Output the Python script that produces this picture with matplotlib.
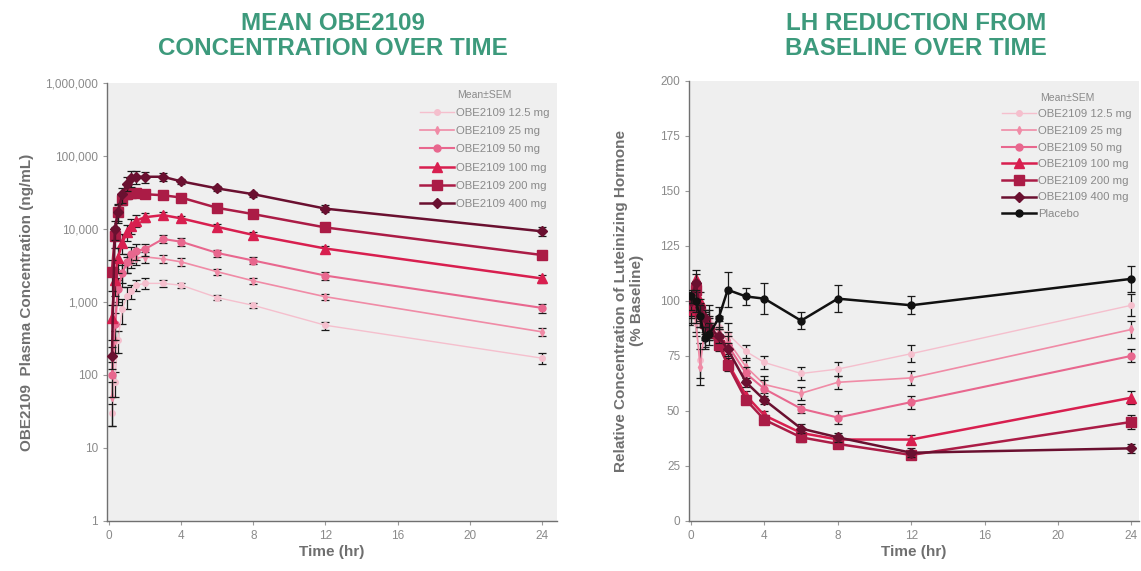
import matplotlib
matplotlib.use("Agg")
import matplotlib.pyplot as plt
from matplotlib.ticker import FixedLocator, FuncFormatter
from matplotlib.lines import Line2D

plt.rcParams['font.family'] = ['Liberation Sans', 'DejaVu Sans']

# ---------------- data ----------------
pk_time = [0.17, 0.33, 0.5, 0.75, 1, 1.25, 1.5, 2, 3, 4, 6, 8, 12, 24]
pk_labels = ["OBE2109 12.5 mg", "OBE2109 25 mg", "OBE2109 50 mg",
             "OBE2109 100 mg", "OBE2109 200 mg", "OBE2109 400 mg"]
pk_125 = [30, 80, 300, 800, 1200, 1400, 1700, 1800, 1800, 1700, 1150, 900, 480, 170]
pk_25 = [50, 300, 1500, 2500, 3300, 3700, 4000, 4150, 3900, 3550, 2600, 1950, 1180, 390]
pk_50 = [100, 500, 1500, 2500, 3500, 4500, 5000, 5300, 7300, 6700, 4700, 3700, 2300, 830]
pk_100 = [600, 2000, 4000, 6500, 9000, 11000, 13000, 14500, 15500, 14000, 10700, 8300, 5400, 2100]
pk_200 = [2600, 8000, 17000, 25000, 30000, 31000, 31000, 30000, 29000, 27000, 19500, 16000, 10500, 4400]
pk_400 = [180, 10000, 17000, 30000, 42000, 50000, 52000, 52000, 52000, 45000, 36000, 30000, 19000, 9300]
pk_sem_125 = [10, 30, 100, 300, 400, 300, 300, 300, 200, 150, 80, 60, 60, 30]
pk_sem_25 = [30, 100, 500, 700, 800, 800, 800, 700, 500, 400, 250, 200, 120, 50]
pk_sem_50 = [50, 200, 600, 900, 1000, 1100, 1200, 1000, 900, 800, 500, 400, 300, 120]
pk_sem_100 = [300, 800, 1500, 2000, 2200, 2500, 2500, 2000, 1500, 1200, 900, 700, 500, 250]
pk_sem_200 = [1200, 2500, 4000, 4000, 4000, 3500, 3000, 3000, 2500, 2000, 1500, 1300, 900, 500]
pk_sem_400 = [60, 3000, 5000, 7000, 9000, 12000, 10000, 9000, 6000, 4000, 3000, 2500, 2000, 1200]

pd_time = [0, 0.25, 0.5, 0.75, 1, 1.5, 2, 3, 4, 6, 8, 12, 24]
pd_labels = pk_labels + ["Placebo"]
pd_125 = [94, 90, 73, 85, 92, 88, 85, 77, 72, 67, 69, 76, 98]
pd_25 = [95, 92, 70, 88, 90, 86, 82, 70, 62, 58, 63, 65, 87]
pd_50 = [97, 95, 93, 90, 88, 84, 80, 67, 60, 51, 47, 54, 75]
pd_100 = [96, 110, 100, 92, 86, 82, 72, 57, 48, 40, 37, 37, 56]
pd_200 = [97, 105, 95, 90, 86, 80, 71, 55, 46, 38, 35, 30, 45]
pd_400 = [100, 108, 97, 92, 88, 84, 78, 63, 55, 42, 38, 31, 33]
pd_placebo = [102, 100, 93, 83, 85, 92, 105, 102, 101, 91, 101, 98, 110]
pd_sem_125 = [5, 6, 8, 6, 6, 5, 5, 3, 3, 3, 3, 4, 5]
pd_sem_25 = [5, 6, 8, 6, 6, 5, 4, 3, 4, 3, 3, 3, 4]
pd_sem_50 = [4, 5, 5, 5, 5, 4, 4, 3, 4, 2, 3, 3, 3]
pd_sem_100 = [4, 4, 4, 4, 4, 3, 3, 2, 2, 2, 2, 2, 3]
pd_sem_200 = [4, 4, 4, 4, 4, 3, 3, 2, 2, 2, 2, 2, 3]
pd_sem_400 = [4, 4, 4, 4, 4, 3, 3, 2, 2, 2, 2, 2, 2]
pd_sem_placebo = [3, 5, 5, 5, 5, 5, 8, 4, 7, 4, 6, 4, 6]

pk_ticks_y = [1, 10, 100, 1000, 10000, 100000, 1000000]
x_ticks = [0, 4, 8, 12, 16, 20, 24]
pd_ticks_y = [0, 25, 50, 75, 100, 125, 150, 175, 200]

# ---------------- styles ----------------
colors = ["#f5bfcd", "#f08ba6", "#e8678e", "#d81f4f", "#ab1c46", "#6a1030", "#111111"]
markers = ["o", "d", "o", "^", "s", "D", "o"]
msizes = [4, 4, 5, 7, 7, 5, 5]
lwidths = [1.0, 1.2, 1.5, 1.8, 1.8, 1.8, 1.8]
title_color = "#3d9a7c"
tick_color = "#8a8a8a"
label_color = "#6f6f6f"
bg = "#efefef"

fig = plt.figure(figsize=(11.41, 5.71), dpi=100)
ax1 = fig.add_axes([0.0938, 0.0876, 0.394, 0.767])
ax2 = fig.add_axes([0.604, 0.0876, 0.394, 0.771])

def style(ax):
    ax.set_facecolor(bg)
    for s in ["top", "right"]:
        ax.spines[s].set_visible(False)
    for s in ["left", "bottom"]:
        ax.spines[s].set_color("#707070")
        ax.spines[s].set_linewidth(1.0)
    ax.tick_params(colors="#9a9a9a", labelcolor=tick_color, labelsize=8.5,
                   length=3, width=0.8)
    ax.set_xticks(x_ticks)
    ax.set_xlabel("Time (hr)", fontsize=11, fontweight="bold", color=label_color, labelpad=2)

def add_legend(ax, n, spacing, anchor_y):
    handles = [Line2D([], [], color=colors[i], marker=markers[i], markersize=msizes[i],
                      lw=lwidths[i]) for i in range(n)]
    leg = ax.legend(handles, pd_labels[:n], title="Mean\u00b1SEM", loc="upper right",
                    frameon=False, fontsize=8.2, title_fontsize=7.5, handlelength=3.0,
                    labelspacing=spacing, handletextpad=0.2, borderaxespad=0.2,
                    bbox_to_anchor=(1.0, anchor_y))
    for t in leg.get_texts():
        t.set_color("#8a8a8a")
    leg.get_title().set_color("#8a8a8a")

pk_series = [pk_125, pk_25, pk_50, pk_100, pk_200, pk_400]
pk_sems = [pk_sem_125, pk_sem_25, pk_sem_50, pk_sem_100, pk_sem_200, pk_sem_400]
for i, (vals, sems) in enumerate(zip(pk_series, pk_sems)):
    ax1.errorbar(pk_time, vals, yerr=sems, color=colors[i], marker=markers[i],
                 markersize=msizes[i], lw=lwidths[i], ecolor="#1a1a1a",
                 elinewidth=0.9, capsize=3, capthick=0.9, zorder=3 + i)
ax1.set_yscale("log")
ax1.set_ylim(1, 1000000)
ax1.set_xlim(-0.1, 24.8)
ax1.yaxis.set_major_locator(FixedLocator(pk_ticks_y))
ax1.yaxis.set_minor_locator(FixedLocator([]))
ax1.yaxis.set_major_formatter(FuncFormatter(lambda v, p: f"{int(round(v)):,}"))
style(ax1)
ax1.set_ylabel("OBE2109  Plasma Concentration (ng/mL)", fontsize=11,
               fontweight="bold", color=label_color, labelpad=8)
add_legend(ax1, 6, 0.72, 1.0)

pd_series = [pd_125, pd_25, pd_50, pd_100, pd_200, pd_400, pd_placebo]
pd_sems = [pd_sem_125, pd_sem_25, pd_sem_50, pd_sem_100, pd_sem_200, pd_sem_400, pd_sem_placebo]
for i, (vals, sems) in enumerate(zip(pd_series, pd_sems)):
    ax2.errorbar(pd_time, vals, yerr=sems, color=colors[i], marker=markers[i],
                 markersize=msizes[i], lw=lwidths[i], ecolor="#1a1a1a",
                 elinewidth=0.9, capsize=3, capthick=0.9, zorder=3 + i)
ax2.set_ylim(0, 200)
ax2.set_xlim(-0.1, 24.4)
ax2.set_yticks(pd_ticks_y)
style(ax2)
ax2.set_ylabel("Relative Concentration of Luteinizing Hormone\n(% Baseline)", fontsize=11,
               fontweight="bold", color=label_color, labelpad=12, linespacing=1.1)
add_legend(ax2, 7, 0.58, 0.988)

fig.text(0.292, 0.895, "MEAN OBE2109\nCONCENTRATION OVER TIME", ha="center", va="bottom",
         fontsize=17.4, fontweight="bold", color=title_color, linespacing=1.12)
fig.text(0.803, 0.895, "LH REDUCTION FROM\nBASELINE OVER TIME", ha="center", va="bottom",
         fontsize=17.4, fontweight="bold", color=title_color, linespacing=1.12)

fig.savefig("out.png", dpi=100, facecolor="white")
